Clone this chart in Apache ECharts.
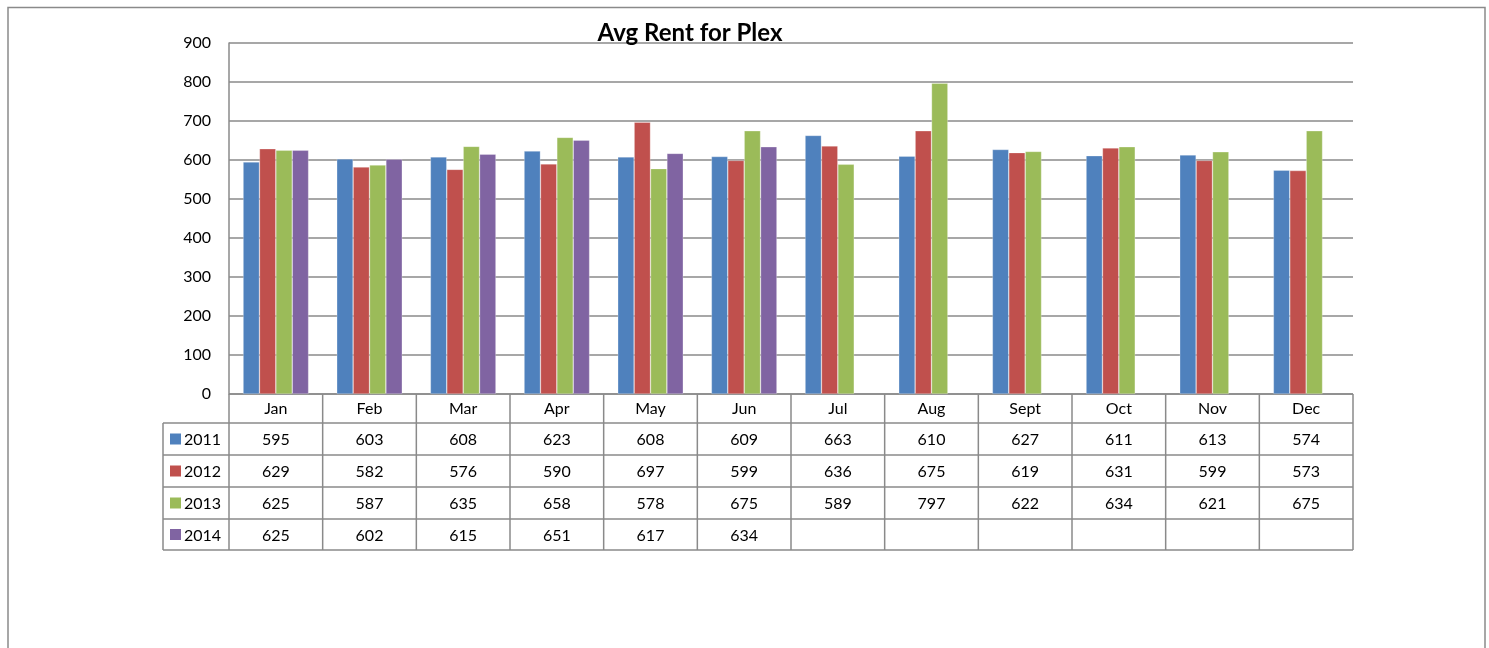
<!DOCTYPE html>
<html>
<head>
<meta charset="utf-8">
<title>Avg Rent for Plex</title>
<script src="https://cdn.jsdelivr.net/npm/echarts@6/dist/echarts.min.js"></script>
<style>
  html, body { margin: 0; padding: 0; background: #fff; }
  #main { width: 1489px; height: 648px; }
</style>
</head>
<body>
<div id="main"></div>
<script>
// chart data
const months = ['Jan', 'Feb', 'Mar', 'Apr', 'May', 'Jun', 'Jul', 'Aug', 'Sept', 'Oct', 'Nov', 'Dec'];
const years = ['2011', '2012', '2013', '2014'];
const rent2011 = [595, 603, 608, 623, 608, 609, 663, 610, 627, 611, 613, 574];
const rent2012 = [629, 582, 576, 590, 697, 599, 636, 675, 619, 631, 599, 573];
const rent2013 = [625, 587, 635, 658, 578, 675, 589, 797, 622, 634, 621, 675];
const rent2014 = [625, 602, 615, 651, 617, 634, null, null, null, null, null, null];
const yTicks = [0, 100, 200, 300, 400, 500, 600, 700, 800, 900];

const seriesData = [rent2011, rent2012, rent2013, rent2014];
const colors = ['#4F81BD', '#C0504D', '#9BBB59', '#8064A2'];

// layout of the plot and the data table under it
const W = 1489, H = 648;
const plotLeft = 229, plotRight = 1353, plotTop = 43, plotBottom = 394;
const headLeft = 163;
const rowLines = [394, 423, 455, 487, 519, 550];
const rowMargins = [38, 70, 102, 134];
const lineColor = '#8a8a8a';
const font = 'Lato, "Open Sans", sans-serif';
const fs = 16;

const chart = echarts.init(document.getElementById('main'));

// table grid lines
const catW = (plotRight - plotLeft) / months.length;
const tableLines = [];
const addLine = (x1, y1, x2, y2) => tableLines.push({
  type: 'line',
  shape: { x1, y1, x2, y2 },
  style: { stroke: lineColor, lineWidth: 1.5 },
  silent: true,
});
addLine(plotLeft, rowLines[0], plotRight, rowLines[0]);
for (let r = 1; r < rowLines.length; r++) {
  addLine(headLeft, rowLines[r], plotRight, rowLines[r]);
}
for (let i = 0; i <= months.length; i++) {
  addLine(plotLeft + i * catW, rowLines[0], plotLeft + i * catW, rowLines[rowLines.length - 1]);
}
addLine(headLeft, rowLines[1], headLeft, rowLines[rowLines.length - 1]);

// legend keys inside the table
years.forEach((y, i) => {
  const cy = (rowLines[i + 1] + rowLines[i + 2]) / 2;
  tableLines.push({
    type: 'rect',
    shape: { x: 170, y: cy - 5.5, width: 11, height: 11 },
    style: { fill: colors[i] },
    silent: true,
  });
  tableLines.push({
    type: 'text',
    x: 184, y: cy + 1,
    style: { text: y, fill: '#000', font: fs + 'px ' + font, textVerticalAlign: 'middle' },
    silent: true,
  });
});

// outer chart border
tableLines.push({
  type: 'rect',
  shape: { x: 8, y: 7.5, width: 1477, height: 660 },
  style: { fill: 'none', stroke: lineColor, lineWidth: 1.5 },
  silent: true,
});

// one extra x axis per table row for the values
const valueAxes = seriesData.map((arr, i) => ({
  type: 'category',
  position: 'bottom',
  data: arr.map((v) => (v == null ? '' : String(v))),
  axisLine: { show: false },
  axisTick: { show: false },
  axisLabel: { interval: 0, margin: rowMargins[i], color: '#000', fontSize: fs, fontFamily: font },
  splitLine: { show: false },
}));

chart.setOption({
  animation: false,
  backgroundColor: '#fff',
  title: {
    text: 'Avg Rent for Plex',
    left: 685,
    top: 16,
    textAlign: 'center',
    textStyle: { fontSize: 24, fontWeight: 'bold', color: '#000', fontFamily: font },
  },
  grid: {
    left: plotLeft,
    right: W - plotRight,
    top: plotTop,
    bottom: H - plotBottom,
    containLabel: false,
  },
  xAxis: [
    {
      type: 'category',
      position: 'bottom',
      data: months,
      axisLine: { show: false },
      axisTick: { show: false },
      axisLabel: { interval: 0, margin: 7, color: '#000', fontSize: fs, fontFamily: font },
    },
  ].concat(valueAxes),
  yAxis: {
    type: 'value',
    min: yTicks[0],
    max: yTicks[yTicks.length - 1],
    interval: 100,
    axisLine: { show: true, lineStyle: { color: lineColor, width: 1.5 } },
    axisTick: { show: false },
    axisLabel: { margin: 18, color: '#000', fontSize: fs, fontFamily: font },
    splitLine: { show: true, lineStyle: { color: lineColor, width: 1.5 } },
  },
  series: years.map((y, i) => ({
    name: y,
    type: 'bar',
    xAxisIndex: 0,
    data: seriesData[i],
    barGap: '0%',
    barCategoryGap: '30%',
    itemStyle: { color: colors[i], borderColor: 'rgba(255,255,255,0.45)', borderWidth: 0.6 },
  })),
  graphic: tableLines,
});
</script>
</body>
</html>
